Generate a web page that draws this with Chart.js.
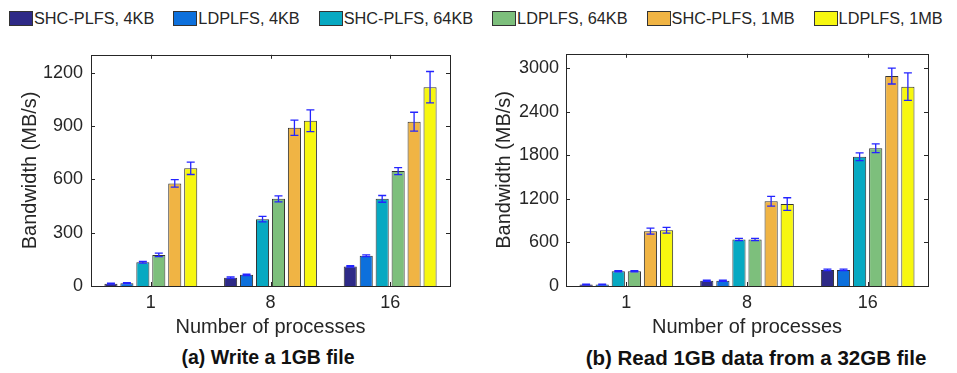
<!DOCTYPE html>
<html>
<head>
<meta charset="utf-8">
<script src="https://cdn.jsdelivr.net/npm/chart.js@4"></script>
<style>
  body { margin: 0; width: 957px; height: 373px; background: #fff; position: relative; overflow: hidden;
         font-family: "Liberation Sans", Arial, sans-serif; color: #262626; }
  #legend { position: absolute; left: 9px; top: 9px; width: 960px; display: flex; gap: 19px; font-size: 16.3px; white-space: nowrap; }
  .item { display: flex; align-items: center; flex-shrink: 0; }
  .sw { width: 24px; height: 15px; border: 1px solid #333; margin-right: 1px; box-sizing: border-box; }
  .box { position: absolute; top: 36px; width: 470px; height: 305px; }
  .cap { position: absolute; top: 346px; font-weight: bold; text-align: center; width: 400px; color: #111; white-space: nowrap; }
</style>
</head>
<body>
<div id="legend"></div>
<div class="box" style="left:0px"><canvas id="writeChart" width="470" height="305"></canvas></div>
<div class="box" style="left:478px"><canvas id="readChart" width="470" height="305"></canvas></div>
<div class="cap" style="left:68px; font-size:19.5px">(a) Write a 1GB file</div>
<div class="cap" style="left:556px; font-size:20.5px">(b) Read 1GB data from a 32GB file</div>
<script>
// data
const categories = ['1', '8', '16'];
const seriesNames = ['SHC-PLFS, 4KB', 'LDPLFS, 4KB', 'SHC-PLFS, 64KB', 'LDPLFS, 64KB', 'SHC-PLFS, 1MB', 'LDPLFS, 1MB'];
const colors = ['#2e2a87', '#0d70dc', '#07a9c2', '#7dbf7c', '#f0b444', '#f7f710'];

// write bandwidth (MB/s), one row per series, one column per category
const writeMeans = [[13, 47, 110], [16, 63, 170], [134, 376, 490], [175, 490, 646], [577, 890, 924], [662, 929, 1118]];
const writeErrs = [[3, 4, 4], [3, 4, 5], [5, 15, 19], [10, 17, 20], [21, 43, 53], [35, 61, 88]];
const writeTickValues = [0, 300, 600, 900, 1200];
const writeMax = 1300;

// read bandwidth (MB/s)
const readMeans = [[22, 71, 222], [22, 71, 222], [204, 640, 1782], [204, 640, 1898], [756, 1169, 2893], [769, 1129, 2747]];
const readErrs = [[5, 8, 10], [5, 8, 10], [8, 15, 53], [8, 15, 60], [42, 67, 109], [40, 87, 189]];
const readTickValues = [0, 600, 1200, 1800, 2400, 3000];
const readMax = 3200;

// legend
const legend = document.getElementById('legend');
seriesNames.forEach((n, i) => {
    const it = document.createElement('div');
    it.className = 'item';
    it.innerHTML = '<div class="sw" style="background:' + colors[i] + '"></div><span>' + n + '</span>';
    legend.appendChild(it);
});

// error bars drawn through the y scale
const errorBars = {
    id: 'errorBars',
    afterDatasetsDraw(chart) {
        const ctx = chart.ctx, y = chart.scales.y;
        ctx.save();
        ctx.strokeStyle = '#2424ff';
        ctx.lineWidth = 1.3;
        chart.data.datasets.forEach((ds, i) => {
            chart.getDatasetMeta(i).data.forEach((bar, j) => {
                const v = ds.data[j], e = ds.errors[j];
                const t = y.getPixelForValue(v + e), b = y.getPixelForValue(v - e);
                ctx.beginPath();
                ctx.moveTo(bar.x, t); ctx.lineTo(bar.x, b);
                ctx.moveTo(bar.x - 4, t); ctx.lineTo(bar.x + 4, t);
                ctx.moveTo(bar.x - 4, b); ctx.lineTo(bar.x + 4, b);
                ctx.stroke();
            });
        });
        ctx.restore();
    }
};

// matlab style box with inward ticks
const boxTicks = {
    id: 'boxTicks',
    afterDraw(chart) {
        const ctx = chart.ctx, a = chart.chartArea, x = chart.scales.x, y = chart.scales.y;
        ctx.save();
        ctx.strokeStyle = '#262626';
        ctx.lineWidth = 1;
        ctx.strokeRect(Math.round(a.left) + 0.5, Math.round(a.top) + 0.5, Math.round(a.right - a.left), Math.round(a.bottom - a.top));
        ctx.beginPath();
        y.ticks.forEach(t => {
            const p = Math.round(y.getPixelForValue(t.value)) + 0.5;
            ctx.moveTo(a.left, p); ctx.lineTo(a.left + 4, p);
            ctx.moveTo(a.right, p); ctx.lineTo(a.right - 4, p);
        });
        categories.forEach((c, i) => {
            const p = Math.round(x.getPixelForValue(i)) + 0.5;
            ctx.moveTo(p, a.bottom); ctx.lineTo(p, a.bottom - 4);
            ctx.moveTo(p, a.top); ctx.lineTo(p, a.top + 4);
        });
        ctx.stroke();
        ctx.restore();
    }
};

function makeChart(id, means, errs, tickValues, yMax, yWidth, tickPad, titlePad) {
    new Chart(document.getElementById(id), {
        type: 'bar',
        data: {
            labels: categories,
            datasets: seriesNames.map((n, i) => ({
                label: n,
                data: means[i],
                errors: errs[i],
                backgroundColor: colors[i],
                borderColor: '#333333',
                borderWidth: 1,
                categoryPercentage: 0.8,
                barPercentage: 0.82
            }))
        },
        options: {
            responsive: false,
            animation: false,
            devicePixelRatio: 1,
            layout: { padding: { top: 10, right: 20, left: 0, bottom: 0 } },
            plugins: { legend: { display: false }, tooltip: { enabled: false } },
            scales: {
                x: {
                    grid: { display: false, drawTicks: false },
                    border: { display: false },
                    ticks: { color: '#262626', font: { family: 'Liberation Sans', size: 18 }, padding: 6 },
                    title: { display: true, text: 'Number of processes', color: '#262626',
                             font: { family: 'Liberation Sans', size: 20 }, padding: { top: 0, bottom: 2 } },
                    afterFit(s) { s.height = 55; }
                },
                y: {
                    min: 0, max: yMax,
                    grid: { display: false, drawTicks: false },
                    border: { display: false },
                    afterBuildTicks(s) { s.ticks = tickValues.map(v => ({ value: v })); },
                    ticks: { color: '#262626', font: { family: 'Liberation Sans', size: 18 }, padding: tickPad,
                             callback: v => String(v) },
                    title: { display: true, text: 'Bandwidth (MB/s)', color: '#262626',
                             font: { family: 'Liberation Sans', size: 20 }, padding: { top: titlePad, bottom: 0 } },
                    afterFit(s) { s.width = yWidth; }
                }
            }
        },
        plugins: [errorBars, boxTicks]
    });
}

makeChart('writeChart', writeMeans, writeErrs, writeTickValues, writeMax, 91, 8, 18);
makeChart('readChart', readMeans, readErrs, readTickValues, readMax, 88, 7, 14);
</script>
</body>
</html>
